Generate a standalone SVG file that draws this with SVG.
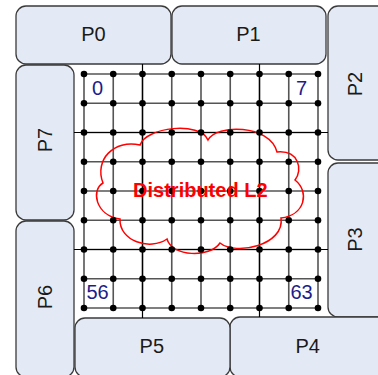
<svg xmlns="http://www.w3.org/2000/svg" width="378" height="375" viewBox="0 0 378 375">
<defs>
<style>
.panel{fill:#E4EAF5;stroke:#3a3a3a;stroke-width:1.3}
.plabel{font-family:"Liberation Sans",Arial,sans-serif;font-size:20px;fill:#1a1a1a;text-anchor:middle}
.cell{fill:none;stroke:#555;stroke-width:1.6}
.link{stroke:#000;stroke-width:1.2;fill:none}
.dot{fill:#000}
.num{font-family:"Liberation Sans",Arial,sans-serif;font-size:20px;fill:#1c1c8a}
.cloud{fill:none;stroke:#ff0000;stroke-width:1.5}
.l2{font-family:"Liberation Sans",Arial,sans-serif;font-size:20px;font-weight:bold;fill:#ff0000;text-anchor:middle}
</style>
</defs>
<rect width="378" height="375" fill="#ffffff"/>
<g id="P0"><rect class="panel" x="16" y="6" width="155" height="58" rx="10"/><text class="plabel" x="93.5" y="41">P0</text></g>
<g id="P1"><rect class="panel" x="172" y="6" width="154" height="58" rx="10"/><text class="plabel" x="248.5" y="41">P1</text></g>
<g id="P2"><rect class="panel" x="328" y="6" width="70" height="154" rx="10"/><text class="plabel" transform="translate(362,84) rotate(-90)" x="0" y="0">P2</text></g>
<g id="P3"><rect class="panel" x="328" y="163" width="70" height="154" rx="10"/><text class="plabel" transform="translate(362,239.5) rotate(-90)" x="0" y="0">P3</text></g>
<g id="P4"><rect class="panel" x="230" y="317" width="170" height="60" rx="10"/><text class="plabel" x="307.7" y="352.7">P4</text></g>
<g id="P5"><rect class="panel" x="75" y="318" width="155" height="59" rx="10"/><text class="plabel" x="151.8" y="352.7">P5</text></g>
<g id="P6"><rect class="panel" x="16" y="221" width="58" height="156" rx="10"/><text class="plabel" transform="translate(51.7,297) rotate(-90)" x="0" y="0">P6</text></g>
<g id="P7"><rect class="panel" x="16" y="65" width="58" height="155" rx="10"/><text class="plabel" transform="translate(51.7,140) rotate(-90)" x="0" y="0">P7</text></g>
<g id="connectors">
<path class="cell" d="M84,74H318M84,103.25H318M84,132.5H318M84,161.75H318M84,191H318M84,220.25H318M84,249.5H318M84,278.75H318M84,308H318M84,74V308M113.25,74V308M142.5,74V308M171.75,74V308M201,74V308M230.25,74V308M259.5,74V308M288.75,74V308M318,74V308"/>
<path class="link" d="M74,132.5H328M74,249.5H328M142.5,64V318M259.5,64V317"/>
</g>
<g id="L2">
<path class="cloud" d="M140,145 C146,127 200,121 208,140 C216,124 270,124 277,152 C299,150 303,170 295,180 C310,192 305,215 281,218 C285,245 236,256 220,243 C210,258 172,257 167,239 C150,251 119,241 120,219 C95,215 91,190 103,183 C94,160 114,139 140,145 Z"/>
</g>
<g id="routers">
<g class="dot">
<circle cx="84" cy="74" r="3.3"/><circle cx="113.25" cy="74" r="3.3"/><circle cx="142.5" cy="74" r="3.3"/><circle cx="171.75" cy="74" r="3.3"/><circle cx="201" cy="74" r="3.3"/><circle cx="230.25" cy="74" r="3.3"/><circle cx="259.5" cy="74" r="3.3"/><circle cx="288.75" cy="74" r="3.3"/><circle cx="318" cy="74" r="3.3"/>
<circle cx="84" cy="103.25" r="3.3"/><circle cx="113.25" cy="103.25" r="3.3"/><circle cx="142.5" cy="103.25" r="3.3"/><circle cx="171.75" cy="103.25" r="3.3"/><circle cx="201" cy="103.25" r="3.3"/><circle cx="230.25" cy="103.25" r="3.3"/><circle cx="259.5" cy="103.25" r="3.3"/><circle cx="288.75" cy="103.25" r="3.3"/><circle cx="318" cy="103.25" r="3.3"/>
<circle cx="84" cy="132.5" r="3.3"/><circle cx="113.25" cy="132.5" r="3.3"/><circle cx="142.5" cy="132.5" r="3.3"/><circle cx="171.75" cy="132.5" r="3.3"/><circle cx="201" cy="132.5" r="3.3"/><circle cx="230.25" cy="132.5" r="3.3"/><circle cx="259.5" cy="132.5" r="3.3"/><circle cx="288.75" cy="132.5" r="3.3"/><circle cx="318" cy="132.5" r="3.3"/>
<circle cx="84" cy="161.75" r="3.3"/><circle cx="113.25" cy="161.75" r="3.3"/><circle cx="142.5" cy="161.75" r="3.3"/><circle cx="171.75" cy="161.75" r="3.3"/><circle cx="201" cy="161.75" r="3.3"/><circle cx="230.25" cy="161.75" r="3.3"/><circle cx="259.5" cy="161.75" r="3.3"/><circle cx="288.75" cy="161.75" r="3.3"/><circle cx="318" cy="161.75" r="3.3"/>
<circle cx="84" cy="191" r="3.3"/><circle cx="113.25" cy="191" r="3.3"/><circle cx="142.5" cy="191" r="3.3"/><circle cx="171.75" cy="191" r="3.3"/><circle cx="201" cy="191" r="3.3"/><circle cx="230.25" cy="191" r="3.3"/><circle cx="259.5" cy="191" r="3.3"/><circle cx="288.75" cy="191" r="3.3"/><circle cx="318" cy="191" r="3.3"/>
<circle cx="84" cy="220.25" r="3.3"/><circle cx="113.25" cy="220.25" r="3.3"/><circle cx="142.5" cy="220.25" r="3.3"/><circle cx="171.75" cy="220.25" r="3.3"/><circle cx="201" cy="220.25" r="3.3"/><circle cx="230.25" cy="220.25" r="3.3"/><circle cx="259.5" cy="220.25" r="3.3"/><circle cx="288.75" cy="220.25" r="3.3"/><circle cx="318" cy="220.25" r="3.3"/>
<circle cx="84" cy="249.5" r="3.3"/><circle cx="113.25" cy="249.5" r="3.3"/><circle cx="142.5" cy="249.5" r="3.3"/><circle cx="171.75" cy="249.5" r="3.3"/><circle cx="201" cy="249.5" r="3.3"/><circle cx="230.25" cy="249.5" r="3.3"/><circle cx="259.5" cy="249.5" r="3.3"/><circle cx="288.75" cy="249.5" r="3.3"/><circle cx="318" cy="249.5" r="3.3"/>
<circle cx="84" cy="278.75" r="3.3"/><circle cx="113.25" cy="278.75" r="3.3"/><circle cx="142.5" cy="278.75" r="3.3"/><circle cx="171.75" cy="278.75" r="3.3"/><circle cx="201" cy="278.75" r="3.3"/><circle cx="230.25" cy="278.75" r="3.3"/><circle cx="259.5" cy="278.75" r="3.3"/><circle cx="288.75" cy="278.75" r="3.3"/><circle cx="318" cy="278.75" r="3.3"/>
<circle cx="84" cy="308" r="3.3"/><circle cx="113.25" cy="308" r="3.3"/><circle cx="142.5" cy="308" r="3.3"/><circle cx="171.75" cy="308" r="3.3"/><circle cx="201" cy="308" r="3.3"/><circle cx="230.25" cy="308" r="3.3"/><circle cx="259.5" cy="308" r="3.3"/><circle cx="288.75" cy="308" r="3.3"/><circle cx="318" cy="308" r="3.3"/>
</g>
</g>
<g id="cell-labels">
<text class="num" x="92" y="95">0</text>
<text class="num" x="296" y="95">7</text>
<text class="num" x="86.5" y="299">56</text>
<text class="num" x="290.5" y="299">63</text>
</g>
<g id="label-L2"><text class="l2" x="200.3" y="197">Distributed L2</text></g>
</svg>
